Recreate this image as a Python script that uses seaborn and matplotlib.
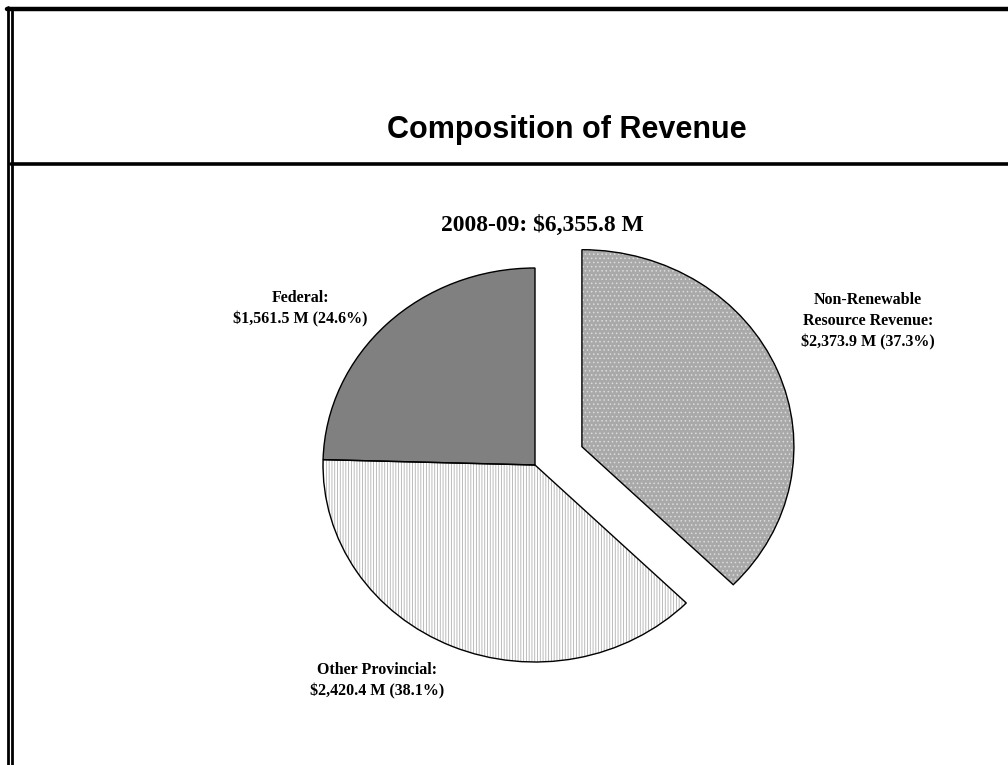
import matplotlib
matplotlib.use("Agg")
import matplotlib.pyplot as plt
import seaborn as sns
from matplotlib.lines import Line2D

sns.set_theme(style="white")
plt.rcParams['hatch.linewidth'] = 0.6

# data
labels = ["Non-Renewable\nResource Revenue:", "Other Provincial:", "Federal:"]
values = [2373.9, 2420.4, 1561.5]
shares = [37.3, 38.1, 24.6]
total = 6355.8
year = "2008-09"
face_cols = ["#a9a9a9", "white", "#808080"]
hatch_cols = ["#dcdcdc", "#b0b0b0", "#808080"]
hatches = ["....", "||||||", ""]
explode_frac = [0.24, 0, 0]

W, H = 1008, 765
fig = plt.figure(figsize=(W / 100, H / 100), dpi=100)

# pie axes: x in pixels, y stretched so circle looks slightly flat like the original
rx, ry = 212, 197
sy = rx / ry
ax = fig.add_axes([0, 0, 1, 1])
cx, cy = 535, (H - 465) * sy
explode = [e * rx for e in explode_frac]  # pie() takes explode in data units

wedges, _ = ax.pie(values, startangle=90, counterclock=False, explode=explode,
                   center=(cx, cy), radius=rx, colors=face_cols,
                   wedgeprops=dict(linewidth=0))
for w, hc, ht in zip(wedges, hatch_cols, hatches):
    w.set_hatch(ht)
    w.set_edgecolor(hc)
ax.pie(values, startangle=90, counterclock=False, explode=explode,
       center=(cx, cy), radius=rx,
       wedgeprops=dict(fill=False, edgecolor="black", linewidth=1.0))
ax.set_xlim(0, W)
ax.set_ylim(0, H * sy)
ax.set_aspect("auto")
ax.axis("off")

# frame lines
def hline(y, x0, x1, lw):
    fig.add_artist(Line2D([x0 / W, x1 / W], [1 - y / H, 1 - y / H], color="black", lw=lw))

def vline(x, y0, y1, lw):
    fig.add_artist(Line2D([x / W, x / W], [1 - y0 / H, 1 - y1 / H], color="black", lw=lw))

hline(9, 7, W, 3.2)
hline(163.5, 11, W, 2.6)
vline(8, 7, H, 2.0)
vline(12, 11, H, 2.0)

title_font = ["Liberation Sans", "DejaVu Sans"]
serif_font = ["Liberation Serif", "DejaVu Serif"]

fig.text(567 / W, 1 - 130 / H, "Composition of Revenue", ha="center", va="center",
         fontsize=22, fontweight="bold", family=title_font, color="black")
fig.text(542 / W, 1 - 225 / H, f"{year}: ${total:,.1f} M", ha="center", va="center",
         fontsize=17, fontweight="bold", family=serif_font, color="black")

label_pos = [(868, 321), (377, 681), (300, 309)]
for lab, v, s, (x, y) in zip(labels, values, shares, label_pos):
    txt = f"{lab}\n${v:,.1f} M ({s:.1f}%)"
    fig.text(x / W, 1 - y / H, txt, ha="center", va="center", fontsize=11.5,
             fontweight="bold", family=serif_font, color="black", linespacing=1.45)

fig.savefig("out.png", dpi=100)
